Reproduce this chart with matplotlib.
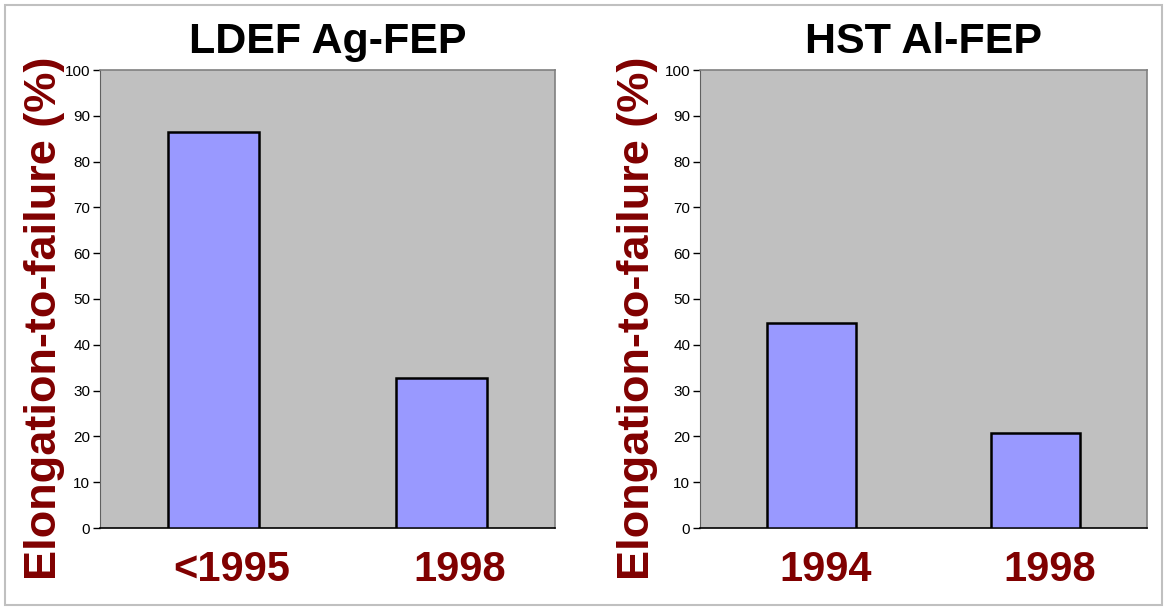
import matplotlib
matplotlib.use("Agg")
import matplotlib.pyplot as plt
from matplotlib.patches import Rectangle
from matplotlib.transforms import ScaledTranslation

plt.rcParams['font.family'] = ['Liberation Sans', 'DejaVu Sans']

titles = ["LDEF Ag-FEP", "HST Al-FEP"]
left_categories = ["<1995", "1998"]
left_values = [86.5, 32.8]
right_categories = ["1994", "1998"]
right_values = [44.8, 20.8]
yticks = list(range(0, 101, 10))
ylabel = "Elongation-to-failure (%)"

W, H = 1167, 610
fig = plt.figure(figsize=(W / 100, H / 100), dpi=100)

# figure frame
fig.patches.append(Rectangle((5 / W, 5 / H), (W - 10) / W, (H - 10) / H,
                             transform=fig.transFigure, fill=False,
                             edgecolor='#c0c0c0', linewidth=1.5))

panels = [
    (100, 555, left_categories, left_values, titles[0], 45, 18),
    (700, 1147, right_categories, right_values, titles[1], 637, 14),
]
top, bottom = 70, 528
for (x0, x1, cats, vals, title, ylab_x, xshift) in panels:
    ax = fig.add_axes([x0 / W, 1 - bottom / H, (x1 - x0) / W, (bottom - top) / H])
    ax.set_facecolor('#c0c0c0')
    xs = list(range(len(cats)))
    ax.bar(xs, vals, width=0.4, color='#9999ff', edgecolor='black', linewidth=1.8, zorder=3)
    ax.set_xlim(-0.5, len(cats) - 0.5)
    ax.set_ylim(0, 100)
    ax.set_yticks(yticks)
    ax.set_yticklabels([str(t) for t in yticks], fontsize=11)
    ax.tick_params(axis='y', direction='out', length=5, width=1, pad=2, colors='black')
    ax.set_xticks(xs)
    ax.set_xticklabels(cats, fontsize=30, fontweight='bold', color='#800000')
    ax.tick_params(axis='x', length=0, pad=16)
    for lbl in ax.get_xticklabels():
        lbl.set_transform(lbl.get_transform() + ScaledTranslation(xshift / 100, 0, fig.dpi_scale_trans))
    for s in ['top', 'right']:
        ax.spines[s].set_color('#808080')
        ax.spines[s].set_linewidth(1.2)
    ax.spines['left'].set_color('#606060')
    ax.spines['bottom'].set_color('black')
    ax.spines['bottom'].set_linewidth(1.2)
    fig.text((x0 + x1) / 2 / W, 1 - 42 / H, title, ha='center', va='center',
             fontsize=31, fontweight='bold', color='black')
    fig.text(ylab_x / W, 1 - 318 / H, ylabel, rotation=90, ha='center', va='center',
             fontsize=32.5, fontweight='bold', color='#800000')

fig.savefig("out.png", dpi=100)
